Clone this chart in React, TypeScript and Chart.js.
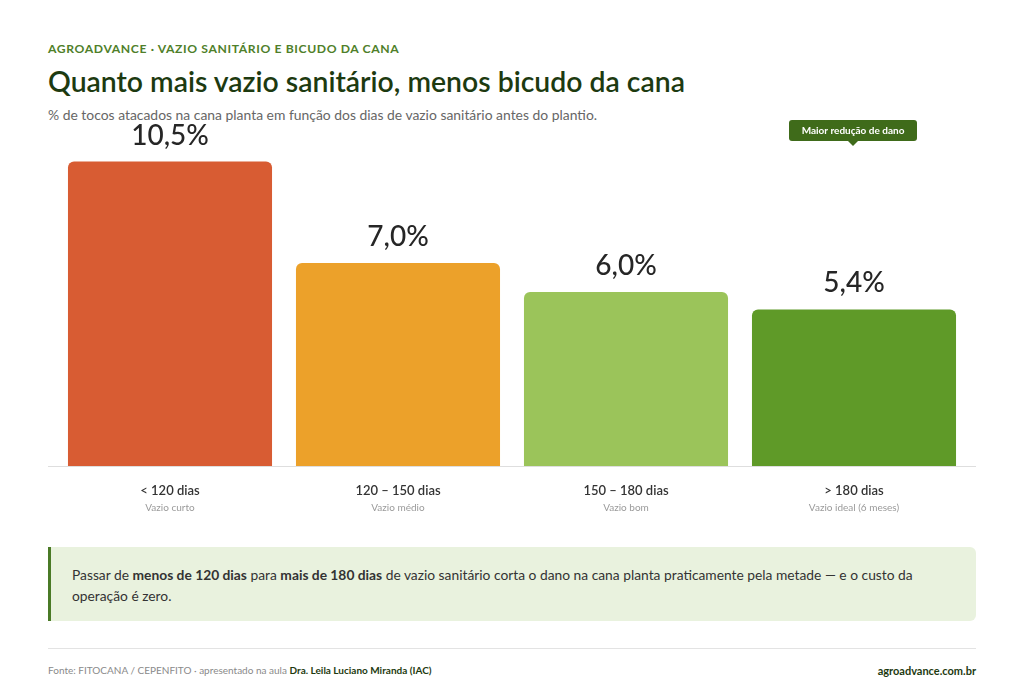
import React, { useEffect, useRef } from "react";
import { Chart, registerables } from "chart.js";

Chart.register(...registerables);

const categories = ["< 120 dias", "120 – 150 dias", "150 – 180 dias", "> 180 dias"];
const subLabels = ["Vazio curto", "Vazio médio", "Vazio bom", "Vazio ideal (6 meses)"];
const values = [10.5, 7.0, 6.0, 5.4];
const barColors = ["#d85c33", "#eca12a", "#9bc45a", "#5f9a28"];
const badgeText = "Maior redução de dano";
const badgeIndex = 3;

const FONT = "Lato, 'Open Sans', sans-serif";

const overlayPlugin = {
  id: "overlay",
  afterDatasetsDraw(chart: any) {
    const ctx = chart.ctx;
    const meta = chart.getDatasetMeta(0);
    const area = chart.chartArea;
    ctx.save();
    // baseline
    ctx.strokeStyle = "#dedede";
    ctx.lineWidth = 1;
    ctx.beginPath();
    ctx.moveTo(0, Math.round(area.bottom) + 0.5);
    ctx.lineTo(chart.width, Math.round(area.bottom) + 0.5);
    ctx.stroke();

    meta.data.forEach((bar: any, i: number) => {
      // value label
      ctx.fillStyle = "#262626";
      ctx.font = `500 28px ${FONT}`;
      ctx.textAlign = "center";
      ctx.textBaseline = "middle";
      ctx.fillText(values[i].toFixed(1).replace(".", ",") + "%", bar.x, bar.y - 26);
      // category labels
      ctx.fillStyle = "#333333";
      ctx.font = `600 13px ${FONT}`;
      ctx.fillText(categories[i], bar.x, area.bottom + 25);
      ctx.fillStyle = "#9a9a9a";
      ctx.font = `400 10px ${FONT}`;
      ctx.fillText(subLabels[i], bar.x, area.bottom + 42);
    });

    // badge
    const b = meta.data[badgeIndex];
    ctx.font = `700 10px ${FONT}`;
    const w = 128;
    const h = 21;
    const cx = b.x - 1;
    const top = area.top + 2;
    ctx.fillStyle = "#3f6b1a";
    ctx.beginPath();
    (ctx as any).roundRect(cx - w / 2, top, w, h, 3);
    ctx.fill();
    ctx.beginPath();
    ctx.moveTo(cx - 5, top + h);
    ctx.lineTo(cx + 5, top + h);
    ctx.lineTo(cx, top + h + 5);
    ctx.closePath();
    ctx.fill();
    ctx.fillStyle = "#ffffff";
    ctx.textAlign = "center";
    ctx.textBaseline = "middle";
    ctx.fillText(badgeText, cx, top + h / 2 + 0.5);
    ctx.restore();
  },
};

export default function App() {
  const ref = useRef<HTMLCanvasElement | null>(null);

  useEffect(() => {
    if (!ref.current) return;
    const chart = new Chart(ref.current, {
      type: "bar",
      data: {
        labels: categories,
        datasets: [
          {
            data: values,
            backgroundColor: barColors,
            borderRadius: { topLeft: 6, topRight: 6, bottomLeft: 0, bottomRight: 0 },
            borderSkipped: "bottom",
            categoryPercentage: 1,
            barPercentage: 0.895,
          },
        ],
      },
      options: {
        animation: false,
        responsive: false,
        maintainAspectRatio: false,
        layout: { padding: { top: 8, bottom: 64, left: 8, right: 8 } },
        plugins: { legend: { display: false }, tooltip: { enabled: false } },
        scales: {
          x: { display: false },
          y: { display: false, min: 0, max: 12 },
        },
      },
      plugins: [overlayPlugin],
    });
    return () => chart.destroy();
  }, []);

  return (
    <div style={{ position: "relative", width: 1008, height: 675, fontFamily: FONT, background: "#fff" }}>
      <div style={{ position: "absolute", left: 40, top: 33, fontSize: 12.2, fontWeight: 700, letterSpacing: 0.6, color: "#4f7f2a" }}>
        AGROADVANCE · VAZIO SANITÁRIO E BICUDO DA CANA
      </div>
      <div style={{ position: "absolute", left: 40, top: 56, fontSize: 28.4, fontWeight: 600, color: "#1d3a10" }}>
        Quanto mais vazio sanitário, menos bicudo da cana
      </div>
      <div style={{ position: "absolute", left: 40, top: 98, fontSize: 13.9, color: "#666666" }}>
        % de tocos atacados na cana planta em função dos dias de vazio sanitário antes do plantio.
      </div>
      <div style={{ position: "absolute", left: 40, top: 102, width: 928, height: 420 }}>
        <canvas ref={ref} width={928} height={420} />
      </div>
      <div
        style={{
          position: "absolute",
          left: 40,
          top: 539,
          width: 928,
          height: 74,
          boxSizing: "border-box",
          background: "#e9f2de",
          borderLeft: "3px solid #4a7a26",
          borderRadius: "0 6px 6px 0",
          padding: "17px 40px 0 21px",
          fontSize: 13.8,
          lineHeight: "21px",
          color: "#333",
        }}
      >
        Passar de <b>menos de 120 dias</b> para <b>mais de 180 dias</b> de vazio sanitário corta o dano na cana planta praticamente pela metade — e o custo da operação é zero.
      </div>
      <div style={{ position: "absolute", left: 40, top: 640, width: 928, borderTop: "1px solid #e3e3e3" }} />
      <div style={{ position: "absolute", left: 40, top: 656, fontSize: 10, color: "#8a8a8a" }}>
        Fonte: FITOCANA / CEPENFITO · apresentado na aula <b style={{ color: "#1d3a10" }}>Dra. Leila Luciano Miranda (IAC)</b>
      </div>
      <div style={{ position: "absolute", right: 40, top: 656, fontSize: 11, fontWeight: 700, color: "#1d3a10" }}>
        agroadvance.com.br
      </div>
    </div>
  );
}
